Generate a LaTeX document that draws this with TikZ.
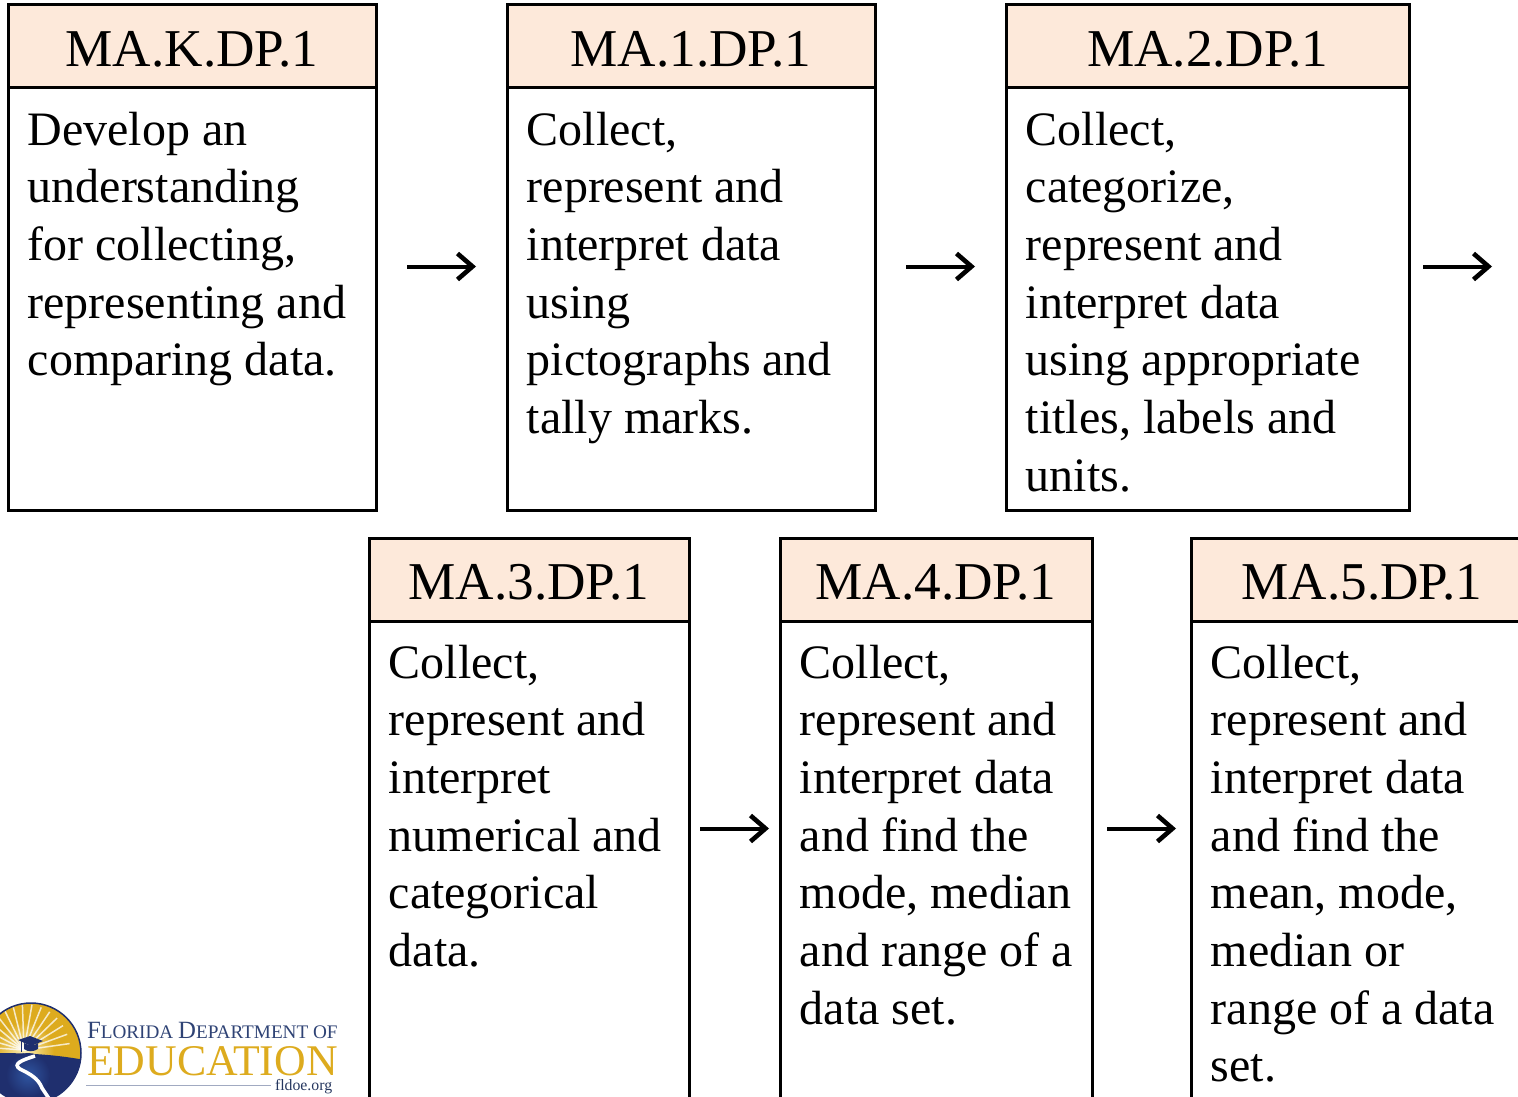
\documentclass[tikz,border=0pt]{standalone}
\usepackage{fontspec}
\usetikzlibrary{arrows.meta}
\setmainfont{Liberation Serif}
\definecolor{peach}{HTML}{FDE9DA}
\definecolor{navy}{HTML}{1F2F6E}
\definecolor{midblue}{HTML}{2F55A0}
\definecolor{gold}{HTML}{DDAB1E}
\definecolor{glow}{HTML}{FBEFB8}
\definecolor{logotext}{HTML}{2F4375}
\tikzset{
  head/.style={draw=black,line width=3pt,fill=peach,anchor=north west,inner sep=0pt,outer sep=0pt},
  bodybox/.style={draw=black,line width=3pt,fill=white,anchor=north west,inner sep=0pt,outer sep=0pt},
  title/.style={font=\fontsize{53.2}{54}\selectfont,inner sep=0pt},
  bodytext/.style={anchor=north west,inner sep=0pt,align=left,font=\fontsize{48}{57.7}\selectfont},
  flow/.style={line width=4pt,-{Straight Barb[length=15pt,width=26pt,line width=4.6pt]}},
}
\newcommand{\stdbox}[7]{%
  \node[bodybox,minimum width=#4pt,minimum height=#5pt] (#1b) at (#2pt,-#3pt-83pt) {};
  \node[head,minimum width=#4pt,minimum height=83pt] (#1h) at (#2pt,-#3pt) {};
  \node[title] (#1t) at ([yshift=-3pt]#1h.center) {#6};
  \node[bodytext] (#1x) at (#2pt+19.5pt,-#3pt-83pt-23.5pt) {#7};
}
\begin{document}
\begin{tikzpicture}
\useasboundingbox (0pt,0pt) rectangle (1518pt,-1097pt);
\begin{scope}
\clip (0pt,0pt) rectangle (1518pt,-1097pt);
\stdbox{a}{8}{5}{368}{422}{MA.K.DP.1}{Develop an\\understanding\\for collecting,\\representing and\\comparing data.}
\stdbox{b}{507}{5}{368}{422}{MA.1.DP.1}{Collect,\\represent and\\interpret data\\using\\pictographs and\\tally marks.}
\stdbox{c}{1006}{5}{403}{422}{MA.2.DP.1}{Collect,\\categorize,\\represent and\\interpret data\\using appropriate\\titles, labels and\\units.}
\stdbox{d}{369}{538}{320}{520}{MA.3.DP.1}{Collect,\\represent and\\interpret\\numerical and\\categorical\\data.}
\stdbox{e}{780}{538}{312}{520}{MA.4.DP.1}{Collect,\\represent and\\interpret data\\and find the\\mode, median\\and range of a\\data set.}
\node[bodybox,minimum width=340pt,minimum height=520pt] (fb) at (1191pt,-621pt) {};
\node[head,minimum width=340pt,minimum height=83pt] (fh) at (1191pt,-538pt) {};
\node[title] (ft) at (1362pt,-582.5pt) {MA.5.DP.1};
\node[bodytext] (fx) at (1210.5pt,-644.5pt) {Collect,\\represent and\\interpret data\\and find the\\mean, mode,\\median or\\range of a data\\set.};
% logo
\begin{scope}
\clip (31pt,-1053pt) circle (50pt);
\fill[gold] (-30pt,-990pt) rectangle (90pt,-1100pt);
\shade[inner color=glow,outer color=gold] (24pt,-1052pt) circle (30pt);
\foreach \a in {8,20,...,176}{\draw[white,opacity=.75,line width=1.5pt] (24pt,-1050pt) -- ++(\a:46pt);}
\fill[navy] (-30pt,-1054pt) .. controls (10pt,-1052pt) and (50pt,-1053pt) .. (90pt,-1061pt) -- (90pt,-1110pt) -- (-30pt,-1110pt) -- cycle;
\shade[inner color=midblue,outer color=navy] (28pt,-1075pt) circle (22pt);
\draw[white,line width=3.6pt] (35pt,-1056pt) .. controls (22pt,-1060pt) and (12pt,-1064pt) .. (20pt,-1069pt) .. controls (30pt,-1074pt) and (38pt,-1078pt) .. (42pt,-1088pt) -- (50pt,-1100pt);
\end{scope}
\draw[navy,line width=1.5pt] (31pt,-1053pt) circle (50pt);
\fill[navy] (18pt,-1040pt) -- (30pt,-1036pt) -- (43pt,-1041pt) -- (31pt,-1046pt) -- cycle;
\fill[navy] (24pt,-1043pt) .. controls (30pt,-1046pt) and (34pt,-1046pt) .. (38pt,-1043pt) -- (38pt,-1049pt) .. controls (33pt,-1052pt) and (28pt,-1052pt) .. (24pt,-1049pt) -- cycle;
\draw[navy,line width=0.9pt] (21pt,-1041pt) -- (21pt,-1052pt);
\node[anchor=base west,inner sep=0pt,outer sep=0pt,text=logotext] (logoa) at (87pt,-1038pt) {\fontsize{24.8}{24}\selectfont F\fontsize{19.2}{24}\selectfont LORIDA \fontsize{24.8}{24}\selectfont D\fontsize{19.2}{24}\selectfont EPARTMENT OF};
\node[anchor=base west,inner sep=0pt,outer sep=0pt,text=gold] (logob) at (87pt,-1075pt) {\fontsize{43.8}{44}\selectfont EDUCATION};
\coordinate (rulea) at (86pt,-1085.5pt);
\coordinate (ruleb) at (271pt,-1085.5pt);
\draw[logotext!45,line width=1pt] (rulea) -- (ruleb);
\node[anchor=base west,inner sep=0pt,outer sep=0pt,text=logotext!80!black] (logoc) at (275pt,-1090pt) {\fontsize{15.8}{15.8}\selectfont fldoe.org};
% arrows
\coordinate (p1) at (407pt,-266.5pt); \coordinate (q1) at (476pt,-266.5pt);
\coordinate (p2) at (906pt,-266.5pt); \coordinate (q2) at (975pt,-266.5pt);
\coordinate (p3) at (1423pt,-266.5pt); \coordinate (q3) at (1492pt,-266.5pt);
\coordinate (p4) at (700pt,-828.5pt); \coordinate (q4) at (769pt,-828.5pt);
\coordinate (p5) at (1107pt,-828.5pt); \coordinate (q5) at (1176pt,-828.5pt);
\foreach \i in {1,...,5}{\draw[flow] (p\i) -- (q\i);}
\end{scope}
\end{tikzpicture}
\end{document}
